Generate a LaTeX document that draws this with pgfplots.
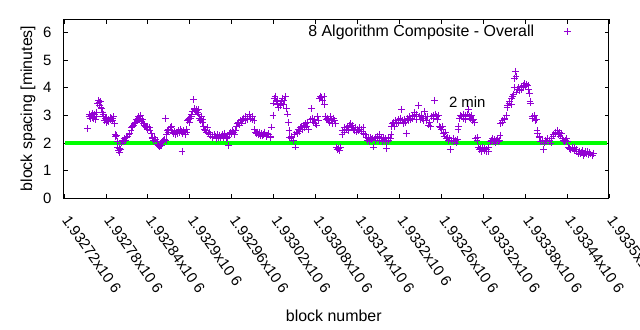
\documentclass[border=0pt]{standalone}
\usepackage{fontspec}
\setmainfont{Liberation Sans}
\usepackage{pgfplots}
\pgfplotsset{compat=1.18}
\definecolor{gpviolet}{RGB}{148,0,211}
\definecolor{gpgreen}{RGB}{0,255,0}
\begin{document}
\begin{tikzpicture}
\useasboundingbox (-64bp,-132bp) rectangle (576bp,198bp);
\begin{axis}[
  at={(0,0)}, anchor=south west,
  scale only axis, width=545bp, height=179bp,
  xmin=1932720, xmax=1933500, ymin=0, ymax=6.5,
  xtick={1932720,1932780,1932840,1932900,1932960,1933020,1933080,1933140,1933200,1933260,1933320,1933380,1933440,1933500},
  xticklabels={1.93272x10\ 6,1.93278x10\ 6,1.93284x10\ 6,1.9329x10\ 6,1.93296x10\ 6,1.93302x10\ 6,1.93308x10\ 6,1.93314x10\ 6,1.9332x10\ 6,1.93326x10\ 6,1.93332x10\ 6,1.93338x10\ 6,1.93344x10\ 6,1.9335x10\ 6},
  ytick={0,1,2,3,4,5,6},
  scaled x ticks=false,
  tick align=inside, tick pos=both,
  major tick length=4.5bp,
  tick style={black, line width=0.8bp},
  axis line style={black, line width=1bp},
  every tick label/.append style={font=\fontsize{15}{17}\selectfont},
  /pgf/number format/assume math mode=true,
  xticklabel style={rotate=-55, anchor=north west, inner sep=0pt, xshift=16.5bp, yshift=-4bp},
  yticklabel style={xshift=-9bp},
  xlabel={block number},
  ylabel={block spacing [minutes]},
  label style={font=\fontsize{16}{18}\selectfont},
  xlabel style={at={(0.495,0)}, anchor=north, yshift=-108bp},
  ylabel style={at={(0,0.5)}, anchor=south, xshift=0bp, yshift=25bp},
  legend style={draw=none, fill=none, font=\fontsize{16}{18}\selectfont,
    at={(1,1)}, anchor=north east, xshift=-35bp, yshift=-2bp},
  legend plot pos=right,
  legend cell align=right,
  legend image code/.code={\path[draw=none,fill=none] (0cm,0cm) -- (1.1cm,0cm); \draw[#1, only marks] plot coordinates {(1.1cm,0cm)};},
]
\addplot[only marks, mark=+, mark size=3.4bp, gpviolet, line width=0.8bp] coordinates {
(1932754,2.52) (1932756,2.95) (1932757,3.05) (1932758,2.9) (1932759,3.0) (1932760,2.92)
(1932761,3.08) (1932762,2.88) (1932763,2.97) (1932764,3.02) (1932765,2.85) (1932766,2.95)
(1932767,3.1) (1932768,3.42) (1932769,3.55) (1932770,3.48) (1932771,3.38) (1932772,3.5)
(1932773,3.3) (1932774,3.25) (1932775,3.1) (1932776,3.05) (1932777,2.95) (1932778,2.82)
(1932779,2.88) (1932780,2.75) (1932781,2.9) (1932782,2.8) (1932783,2.85) (1932784,2.78)
(1932786,2.92) (1932787,2.85) (1932788,2.9) (1932789,2.8) (1932790,2.88) (1932791,2.95)
(1932792,2.7) (1932793,2.3) (1932794,2.22) (1932795,2.28) (1932796,2.05) (1932797,1.85)
(1932798,1.72) (1932799,1.8) (1932800,1.65) (1932801,1.75) (1932802,2.0) (1932803,2.1)
(1932805,2.05) (1932806,2.15) (1932808,2.1) (1932810,2.2) (1932811,2.25) (1932813,2.3)
(1932814,2.35) (1932816,2.45) (1932817,2.55) (1932818,2.6) (1932820,2.65) (1932821,2.7)
(1932822,2.75) (1932824,2.85) (1932825,2.8) (1932826,2.9) (1932827,2.95) (1932828,2.85)
(1932829,3.0) (1932830,2.9) (1932831,2.78) (1932832,2.85) (1932834,2.7) (1932835,2.62)
(1932836,2.6) (1932838,2.55) (1932839,2.6) (1932840,2.5) (1932842,2.55) (1932843,2.45)
(1932845,2.35) (1932846,2.2) (1932847,2.15) (1932848,2.1) (1932850,2.2) (1932851,2.12)
(1932853,2.05) (1932854,1.95) (1932855,1.9) (1932857,1.88) (1932858,1.92) (1932860,1.9)
(1932861,2.05) (1932862,2.1) (1932864,2.12) (1932865,2.9) (1932866,2.1) (1932867,2.3)
(1932868,2.45) (1932869,2.5) (1932870,2.4) (1932872,2.55) (1932873,2.45) (1932874,2.6)
(1932875,2.4) (1932877,2.35) (1932878,2.42) (1932879,2.3) (1932881,2.4) (1932882,2.35)
(1932884,2.45) (1932885,2.38) (1932886,2.5) (1932888,2.42) (1932889,1.7) (1932890,2.35)
(1932891,2.45) (1932893,2.4) (1932894,2.3) (1932895,2.5) (1932896,2.4) (1932897,2.8)
(1932898,2.85) (1932899,2.9) (1932900,2.75) (1932901,2.88) (1932902,2.95) (1932903,3.05)
(1932904,3.15) (1932905,3.57) (1932906,3.2) (1932907,3.25) (1932908,3.15) (1932909,3.22)
(1932910,3.18) (1932911,3.1) (1932912,3.2) (1932913,3.05) (1932914,2.9) (1932915,2.8)
(1932916,2.85) (1932917,2.95) (1932918,2.75) (1932919,2.85) (1932920,2.6) (1932921,2.5)
(1932922,2.45) (1932924,2.4) (1932925,2.55) (1932926,2.35) (1932928,2.4) (1932929,2.25)
(1932930,2.3) (1932932,2.25) (1932933,2.2) (1932935,2.3) (1932936,2.25) (1932938,2.15)
(1932939,2.3) (1932941,2.2) (1932942,2.28) (1932944,2.18) (1932945,2.25) (1932947,2.3)
(1932948,2.2) (1932950,2.35) (1932951,2.25) (1932953,2.15) (1932954,2.2) (1932956,1.9)
(1932957,2.3) (1932958,2.4) (1932960,2.35) (1932961,2.45) (1932963,2.4) (1932964,2.3)
(1932966,2.45) (1932967,2.6) (1932968,2.7) (1932970,2.75) (1932971,2.65) (1932973,2.8)
(1932974,2.72) (1932976,2.85) (1932977,2.9) (1932979,2.8) (1932980,2.95) (1932982,2.85)
(1932983,2.9) (1932985,2.95) (1932986,3.05) (1932987,2.9) (1932989,2.85) (1932990,2.95)
(1932992,2.8) (1932993,2.5) (1932994,2.38) (1932996,2.35) (1932997,2.4) (1932998,2.3)
(1933000,2.38) (1933001,2.28) (1933003,2.35) (1933004,2.25) (1933006,2.3) (1933007,2.4)
(1933009,2.28) (1933010,2.22) (1933012,2.35) (1933013,2.3) (1933015,2.2) (1933016,2.25)
(1933017,2.58) (1933019,3.0) (1933020,3.45) (1933021,3.6) (1933022,3.7) (1933024,3.5)
(1933025,3.4) (1933026,3.55) (1933027,3.3) (1933029,3.45) (1933030,3.35) (1933031,3.5)
(1933033,3.62) (1933034,3.4) (1933035,3.55) (1933037,3.68) (1933038,3.25) (1933040,3.05)
(1933041,2.75) (1933042,2.45) (1933043,2.2) (1933045,2.15) (1933046,2.22) (1933048,2.1)
(1933050,2.3) (1933051,1.85) (1933052,2.4) (1933054,2.35) (1933055,2.5) (1933057,2.42)
(1933058,2.55) (1933060,2.6) (1933061,2.48) (1933063,2.65) (1933064,2.55) (1933066,2.7)
(1933067,2.6) (1933069,2.75) (1933070,2.5) (1933072,2.85) (1933074,3.25) (1933075,2.9)
(1933077,2.75) (1933078,2.85) (1933080,2.7) (1933081,2.65) (1933083,2.95) (1933084,2.8)
(1933086,3.6) (1933087,3.7) (1933089,3.65) (1933090,3.55) (1933092,3.68) (1933093,3.4)
(1933094,2.95) (1933095,2.85) (1933097,2.9) (1933098,2.8) (1933100,2.75) (1933101,2.95)
(1933103,2.85) (1933104,2.7) (1933106,2.9) (1933107,2.8) (1933109,2.7) (1933110,1.85)
(1933111,1.75) (1933113,1.8) (1933114,1.72) (1933116,1.85) (1933118,2.3) (1933119,2.45)
(1933121,2.4) (1933122,2.55) (1933124,2.5) (1933125,2.6) (1933127,2.45) (1933128,2.65)
(1933130,2.7) (1933131,2.55) (1933133,2.62) (1933134,2.5) (1933136,2.45) (1933137,2.55)
(1933139,2.4) (1933140,2.5) (1933142,2.45) (1933143,2.55) (1933145,2.5) (1933146,2.42)
(1933148,2.55) (1933149,2.35) (1933151,2.3) (1933153,2.2) (1933154,2.1) (1933156,2.15)
(1933157,2.05) (1933159,2.2) (1933160,2.12) (1933162,2.15) (1933163,1.85) (1933165,2.1)
(1933166,2.2) (1933168,2.15) (1933169,2.25) (1933171,2.1) (1933172,2.3) (1933174,2.15)
(1933175,2.05) (1933177,2.2) (1933178,2.1) (1933180,2.15) (1933181,2.05) (1933182,1.8)
(1933184,2.2) (1933185,2.1) (1933187,2.15) (1933188,2.3) (1933189,2.6) (1933190,2.7)
(1933192,2.75) (1933193,2.6) (1933195,2.8) (1933196,2.7) (1933198,2.85) (1933199,2.75)
(1933201,2.9) (1933203,3.2) (1933204,2.8) (1933206,2.7) (1933207,2.85) (1933209,2.75)
(1933210,2.35) (1933212,2.9) (1933213,2.8) (1933215,2.95) (1933216,2.85) (1933218,2.9)
(1933219,3.0) (1933221,2.95) (1933222,3.1) (1933224,2.85) (1933225,3.05) (1933227,3.37)
(1933228,2.95) (1933230,2.85) (1933231,3.0) (1933233,2.9) (1933234,2.8) (1933236,3.15)
(1933237,2.95) (1933239,2.8) (1933240,2.95) (1933242,2.65) (1933243,2.75) (1933245,2.6)
(1933246,2.95) (1933248,3.0) (1933249,2.9) (1933250,3.55) (1933251,3.05) (1933253,2.95)
(1933254,2.85) (1933256,3.0) (1933257,2.6) (1933259,2.55) (1933260,2.5) (1933262,2.6)
(1933263,2.35) (1933264,2.25) (1933266,2.4) (1933267,2.15) (1933269,2.2) (1933270,2.1)
(1933272,2.15) (1933273,1.75) (1933275,2.1) (1933277,2.05) (1933278,2.15) (1933280,2.1)
(1933281,2.0) (1933283,2.12) (1933284,2.5) (1933285,2.6) (1933286,2.9) (1933288,3.0)
(1933289,2.95) (1933291,3.05) (1933292,2.9) (1933294,3.0) (1933295,2.85) (1933297,3.05)
(1933299,3.2) (1933300,2.95) (1933302,2.9) (1933303,3.0) (1933305,2.8) (1933306,2.85)
(1933308,2.75) (1933309,2.15) (1933311,2.1) (1933312,2.2) (1933313,1.85) (1933315,1.75)
(1933316,1.8) (1933318,1.7) (1933319,1.85) (1933321,1.72) (1933322,1.8) (1933324,1.68)
(1933325,1.78) (1933327,1.82) (1933328,1.7) (1933330,2.05) (1933331,2.1) (1933333,2.15)
(1933334,2.05) (1933336,2.12) (1933337,2.0) (1933339,2.1) (1933340,2.15) (1933342,2.05)
(1933343,2.1) (1933344,2.28) (1933345,2.7) (1933347,2.8) (1933348,2.75) (1933350,2.9)
(1933351,2.85) (1933353,3.0) (1933354,3.3) (1933355,3.35) (1933357,3.45) (1933358,3.5)
(1933360,3.4) (1933361,3.6) (1933362,3.7) (1933363,3.75) (1933364,4.0) (1933365,4.35)
(1933366,4.6) (1933367,4.4) (1933368,3.85) (1933369,3.95) (1933371,4.0) (1933372,3.9)
(1933374,3.95) (1933375,4.05) (1933377,4.0) (1933378,4.1) (1933379,4.15) (1933381,4.05)
(1933382,4.12) (1933384,4.08) (1933385,3.95) (1933386,3.8) (1933387,3.5) (1933388,3.45)
(1933390,2.95) (1933391,2.9) (1933393,3.0) (1933394,2.8) (1933396,2.85) (1933397,2.45)
(1933398,2.35) (1933400,2.25) (1933401,2.2) (1933402,2.05) (1933404,2.1) (1933405,2.05)
(1933406,1.75) (1933408,2.0) (1933409,2.1) (1933411,2.05) (1933412,2.15) (1933414,2.05)
(1933415,2.1) (1933417,2.0) (1933418,2.15) (1933420,2.25) (1933421,2.3) (1933423,2.4)
(1933424,2.35) (1933426,2.45) (1933427,2.3) (1933429,2.38) (1933430,2.25) (1933432,2.35)
(1933433,2.15) (1933435,2.1) (1933436,2.05) (1933438,2.1) (1933439,2.15) (1933441,2.05)
(1933442,1.85) (1933444,1.8) (1933445,1.75) (1933447,1.85) (1933448,1.8) (1933450,1.72)
(1933451,1.85) (1933453,1.78) (1933454,1.68) (1933456,1.62) (1933457,1.7) (1933459,1.6)
(1933460,1.65) (1933462,1.72) (1933463,1.55) (1933465,1.62) (1933466,1.68) (1933468,1.6)
(1933469,1.7) (1933471,1.58) (1933472,1.65) (1933474,1.6) (1933476,1.55) (1933478,1.62)
};
\addlegendentry{8 Algorithm Composite - Overall}
\addplot[gpgreen, line width=3.5bp, forget plot] coordinates {(1932722,2) (1933497,2)};
\node[anchor=west, font=\fontsize{15}{17}\selectfont] at (axis cs:1933266,3.5) {2 min};
\end{axis}
\end{tikzpicture}
\end{document}
